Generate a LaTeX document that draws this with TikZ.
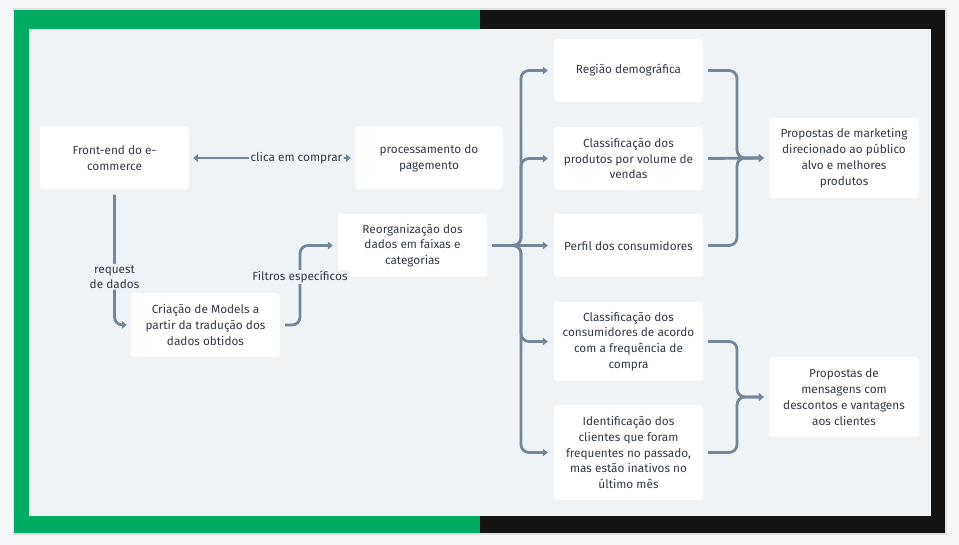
\documentclass[tikz,border=0pt]{standalone}
\usepackage{fontspec}
\setmainfont{Fira Sans}
\usetikzlibrary{arrows.meta,calc}
\definecolor{pagebg}{HTML}{F7F8FA}
\definecolor{panel}{HTML}{EFF3F6}
\definecolor{frgreen}{HTML}{00AB62}
\definecolor{frdark}{HTML}{131313}
\definecolor{conncol}{HTML}{74869A}
\definecolor{txt}{HTML}{333B47}
\tikzset{
  box/.style={draw=none, fill=white, rounded corners=3pt, align=center, text=txt,
    font=\fontsize{11.8}{15.8}\selectfont, inner sep=2pt},
  conn/.style={draw=conncol, line width=2.8pt, rounded corners=8pt,
    -{Triangle[length=5pt,width=7.5pt]}},
  lbl/.style={fill=panel, text=txt, font=\fontsize{11.8}{15}\selectfont, align=center, inner sep=1.5pt}
}
\begin{document}
\begin{tikzpicture}[x=1pt,y=-1pt]
\useasboundingbox (0,0) rectangle (959,545);
\fill[pagebg] (0,0) rectangle (959,545);
\fill[black!12] (12.5,8.5) rectangle (946.5,535);
\fill[frgreen] (14,10) rectangle (480,533);
\fill[frdark] (480,10) rectangle (945,533);
\fill[panel] (29,29) rectangle (931,516);

% nodes
\node[box, minimum width=149pt, minimum height=63pt] (fe) at (114.5,158) {Front-end do e-\\commerce};
\node[box, minimum width=148pt, minimum height=63pt] (pp) at (429,158) {processamento do\\pagemento};
\node[box, minimum width=149pt, minimum height=63pt] (re) at (412.5,245.5) {Reorganização dos\\dados em faixas e\\categorias};
\node[box, minimum width=149pt, minimum height=64pt] (cr) at (205.5,325) {Criação de Models a\\partir da tradução dos\\dados obtidos};
\node[box, minimum width=149pt, minimum height=63pt] (rg) at (628.5,70.5) {Região demográfica};
\node[box, minimum width=149pt, minimum height=63pt] (cp) at (628.5,158.5) {Classificação dos\\produtos por volume de\\vendas};
\node[box, minimum width=149pt, minimum height=63pt] (pf) at (628.5,245.5) {Perfil dos consumidores};
\node[box, minimum width=149pt, minimum height=79pt] (cc) at (628.5,341.5) {Classificação dos\\consumidores de acordo\\com a frequência de\\compra};
\node[box, minimum width=149pt, minimum height=95pt] (id) at (628.5,452.5) {Identificação dos\\clientes que foram\\frequentes no passado,\\mas estão inativos no\\último mês};
\node[box, minimum width=150pt, minimum height=80pt] (pm) at (844,158) {Propostas de marketing\\direcionado ao público\\alvo e melhores\\produtos};
\node[box, minimum width=150pt, minimum height=80pt] (pg) at (844,397) {Propostas de\\mensagens com\\descontos e vantagens\\aos clientes};

% coordinates for bends
\coordinate (bus) at (521,245.5);
\coordinate (j1) at (737,158);
\coordinate (j2) at (737,397);
\coordinate (fx) at (300,325);

% connectors
\draw[conn, {Triangle[length=5pt,width=7.5pt]}-{Triangle[length=5pt,width=7.5pt]}]
  ([xshift=4pt]fe.east) -- ([xshift=-4pt]pp.west)
  node[lbl, pos=0.655] (l1) {clica em comprar};
\draw[conn] ([yshift=-5pt]fe.south) |- ([xshift=-4pt]cr.west)
  node[lbl, pos=0.315] (l2) {request\\de dados};
\draw[conn] ([xshift=5pt]cr.east) -- (fx) |- ([xshift=-5pt]re.west);
\node[lbl] (l3) at (300,277) {Filtros específicos};

\draw[conn] ([xshift=5pt]re.east) -- (bus) |- ([xshift=-6pt]rg.west);
\draw[conn] ([xshift=5pt]re.east) -- (bus) |- ([xshift=-6pt]cp.west);
\draw[conn] ([xshift=5pt]re.east) -- ([xshift=-6pt]pf.west);
\draw[conn] ([xshift=5pt]re.east) -- (bus) |- ([xshift=-6pt]cc.west);
\draw[conn] ([xshift=5pt]re.east) -- (bus) |- ([xshift=-6pt]id.west);

\draw[conn] ([xshift=5pt]rg.east) -| (j1) -- ([xshift=-5pt]pm.west);
\draw[conn] ([xshift=5pt]cp.east) -- ([xshift=-5pt]pm.west);
\draw[conn] ([xshift=5pt]pf.east) -| (j1) -- ([xshift=-5pt]pm.west);

\draw[conn] ([xshift=5pt]cc.east) -| (j2) -- ([xshift=-5pt]pg.west);
\draw[conn] ([xshift=5pt]id.east) -| (j2) -- ([xshift=-5pt]pg.west);
\end{tikzpicture}
\end{document}
